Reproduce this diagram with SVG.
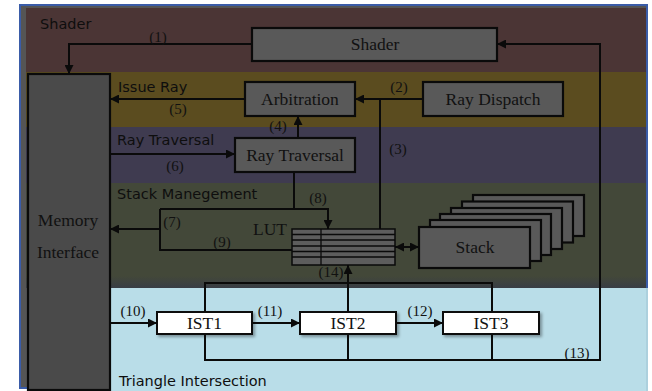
<svg xmlns="http://www.w3.org/2000/svg" width="652" height="391" viewBox="0 0 652 391">
<defs>
<style>
.node{font-size:17.5px;fill:#111111;text-anchor:middle}
.num{font-size:15px;fill:#111111;text-anchor:middle}
.sec{font-size:14.5px;fill:#0e0e0e}
.box{fill:#595959;stroke:#0a0a0a;stroke-width:2.2}
.wbox{fill:#ffffff;stroke:#0a0a0a;stroke-width:2;filter:url(#sh)}
.ln{fill:none;stroke:#0a0a0a;stroke-width:2}
.row{fill:none;stroke:#0a0a0a;stroke-width:1.3}
</style>
<marker id="ah" viewBox="0 0 10 10" refX="10" refY="5" markerWidth="10" markerHeight="9" markerUnits="userSpaceOnUse" orient="auto-start-reverse">
<path d="M0,0 L10,5 L0,10 z" fill="#0a0a0a"/>
</marker>
<filter id="sh" x="-10%" y="-30%" width="130%" height="180%">
<feDropShadow dx="2" dy="2" stdDeviation="1.5" flood-color="#000" flood-opacity="0.35"/>
</filter>
<linearGradient id="tr" x1="0" y1="0" x2="0" y2="1">
<stop offset="0" stop-color="#434839"/>
<stop offset="1" stop-color="#383d45"/>
</linearGradient>
</defs>

<g id="background">
<rect x="0" y="0" width="652" height="391" fill="#ffffff"/>
<rect x="20" y="5" width="627" height="383" fill="#555555" stroke="#3a5ca8" stroke-width="2"/>
<rect x="26" y="8" width="620" height="64" fill="#4b3535"/>
<rect x="26" y="72" width="620" height="55" fill="#5b4c1f"/>
<rect x="26" y="127" width="620" height="56" fill="#3f3b50"/>
<rect x="26" y="183" width="620" height="100" fill="#434839"/>
<rect x="26" y="276" width="620" height="12" fill="url(#tr)"/>
<rect x="110" y="288" width="538" height="103" fill="#b9dde8"/>
<line x1="647" y1="288" x2="647" y2="391" stroke="#9fc3d3" stroke-width="1"/>
</g>

<g id="section-labels" font-family="'DejaVu Sans', Verdana, sans-serif">
<text class="sec" x="40" y="29">Shader</text>
<text class="sec" x="118" y="92">Issue Ray</text>
<text class="sec" x="117" y="145">Ray Traversal</text>
<text class="sec" x="117" y="199">Stack Manegement</text>
<text class="sec" x="119" y="386">Triangle Intersection</text>
</g>

<g id="nodes" font-family="'Liberation Serif', 'DejaVu Serif', serif">
<g id="memory-interface">
<rect x="28" y="74" width="82" height="316" fill="#4a4a4a" stroke="#0a0a0a" stroke-width="2.2"/>
<text class="node" x="68" y="226">Memory</text>
<text class="node" x="68" y="258">Interface</text>
</g>

<g id="shader">
<rect class="box" x="252" y="28" width="245" height="33"/>
<text class="node" x="375" y="50">Shader</text>
</g>

<g id="arbitration">
<rect class="box" x="245" y="82" width="110" height="34"/>
<text class="node" x="300" y="105">Arbitration</text>
</g>

<g id="ray-dispatch">
<rect class="box" x="423" y="82" width="140" height="34"/>
<text class="node" x="493" y="105">Ray Dispatch</text>
</g>

<g id="ray-traversal">
<rect class="box" x="235" y="138" width="120" height="34"/>
<text class="node" x="295" y="161">Ray Traversal</text>
</g>

<g id="lut">
<text class="node" x="270" y="235">LUT</text>
<rect x="292" y="229" width="103" height="36" fill="#5d5d5d" stroke="#0a0a0a" stroke-width="1.5"/>
<path class="row" d="M292,234.5 H395 M292,240 H395 M292,246 H395 M292,251.5 H395 M292,257 H395 M321,229 V265"/>
</g>

<g id="stack">
<rect class="box" x="473" y="195" width="111" height="41"/>
<rect class="box" x="462" y="201.5" width="111" height="41"/>
<rect class="box" x="451" y="208" width="111" height="41"/>
<rect class="box" x="440" y="214" width="111" height="41"/>
<rect class="box" x="430" y="220" width="111" height="41"/>
<rect class="box" x="419" y="227" width="111" height="41"/>
<text class="node" x="475" y="253">Stack</text>
</g>

<g id="ist1">
<rect class="wbox" x="157" y="312" width="95" height="22"/>
<text class="node" x="204.5" y="329">IST1</text>
</g>
<g id="ist2">
<rect class="wbox" x="300" y="312" width="96" height="22"/>
<text class="node" x="348" y="329">IST2</text>
</g>
<g id="ist3">
<rect class="wbox" x="443" y="312" width="96" height="22"/>
<text class="node" x="491" y="329">IST3</text>
</g>
</g>

<g id="connectors">
<path class="ln" d="M252,44 H69 V74" marker-end="url(#ah)"/>
<path class="ln" d="M423,99 H355" marker-end="url(#ah)"/>
<path class="ln" d="M380,99 V229"/>
<path class="ln" d="M245,99 H110" marker-end="url(#ah)"/>
<path class="ln" d="M298,138 V116" marker-end="url(#ah)"/>
<path class="ln" d="M110,154 H235" marker-end="url(#ah)"/>
<path class="ln" d="M294,172 V209"/>
<path class="ln" d="M160,209 H328 V229" marker-end="url(#ah)"/>
<path class="ln" d="M160,209 V250 H292"/>
<path class="ln" d="M160,229 H110" marker-end="url(#ah)"/>
<path class="ln" d="M395,247 H419" marker-start="url(#ah)" marker-end="url(#ah)"/>
<path class="ln" d="M110,323 H157" marker-end="url(#ah)"/>
<path class="ln" d="M252,323 H300" marker-end="url(#ah)"/>
<path class="ln" d="M396,323 H443" marker-end="url(#ah)"/>
<path class="ln" d="M205,312 V283 H492 V312"/>
<path class="ln" d="M348,312 V265" marker-end="url(#ah)"/>
<path class="ln" d="M205,334 V360 H600 V44 H497" marker-end="url(#ah)"/>
<path class="ln" d="M348,334 V360 M492,334 V360"/>
</g>

<g id="labels" font-family="'Liberation Serif', 'DejaVu Serif', serif">
<text class="num" x="158" y="42">(1)</text>
<text class="num" x="399" y="92">(2)</text>
<text class="num" x="398" y="154">(3)</text>
<text class="num" x="278" y="131">(4)</text>
<text class="num" x="178" y="114">(5)</text>
<text class="num" x="175" y="171">(6)</text>
<text class="num" x="172" y="227">(7)</text>
<text class="num" x="318" y="203">(8)</text>
<text class="num" x="222" y="247">(9)</text>
<text class="num" x="133" y="316">(10)</text>
<text class="num" x="270" y="316">(11)</text>
<text class="num" x="420" y="316">(12)</text>
<text class="num" x="577" y="358">(13)</text>
<text class="num" x="331" y="277">(14)</text>
</g>
</svg>
